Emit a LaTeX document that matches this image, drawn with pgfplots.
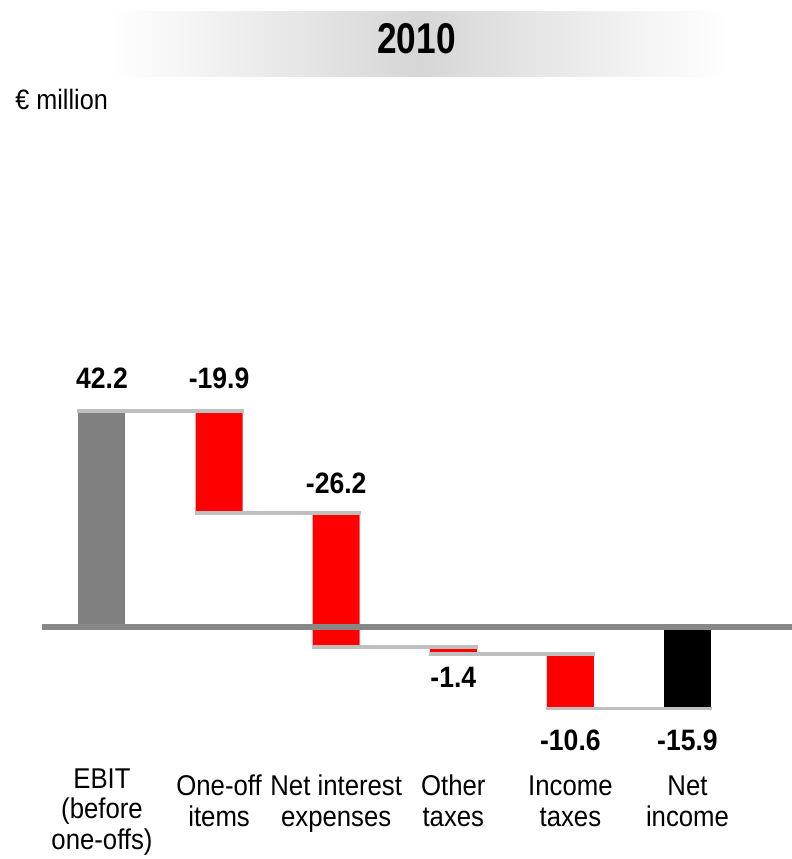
\documentclass[border=0pt]{standalone}
\usepackage{fontspec}
\setmainfont{Liberation Sans}[FakeStretch=0.9]
\newfontfamily\titlefont{Liberation Sans}[FakeStretch=0.82]
\usepackage{pgfplots}
\pgfplotsset{compat=1.18}

\definecolor{wfred}{RGB}{255,0,0}
\definecolor{wfgray}{RGB}{128,128,128}
\definecolor{conn}{RGB}{191,191,191}
\definecolor{zeroline}{RGB}{136,136,136}
\definecolor{band}{RGB}{214,214,214}

\newcommand\valfont{\fontsize{14.75}{16}\selectfont\bfseries}
\newcommand\catfont{\fontsize{14.3}{15.25}\selectfont}

% both axes share the same frame so bars, lines and labels line up
\pgfplotsset{
  wf/.style={
    at={(51pt,-313.5pt)}, anchor=origin,
    x=58.55pt, y=2.56pt,
    xmin=-0.512, xmax=5.892, ymin=-27, ymax=46,
    axis line style={draw=none},
    major tick style={draw=none},
    ytick=\empty, xtick=\empty,
    clip=false,
  }
}

\begin{document}
\begin{tikzpicture}
  \useasboundingbox (0,0) rectangle (396pt,-429.5pt);

  % title band
  \shade[left color=white, right color=white, middle color=band]
    (55pt,-5.5pt) rectangle (364pt,-38pt);
  \node[anchor=base, inner sep=0pt, font=\titlefont\fontsize{21.5}{24}\selectfont\bfseries]
    at (208.25pt,-26.5pt) {2010};
  \node[anchor=base west, inner sep=0pt, font=\fontsize{14}{16}\selectfont]
    at (7.5pt,-54.5pt) {€ million};

  % bars: invisible base + coloured increments
  \begin{axis}[wf, ybar stacked, stack negative=on previous, bar width=23.5pt]
    \addplot[draw=none, fill=none] coordinates {(0,0) (1,22.3) (2,-3.9) (3,-5.3) (4,-15.9) (5,0)};
    \addplot[draw=none, fill=wfgray] coordinates {(0,42.2) (1,0) (2,0) (3,0) (4,0) (5,0)};
    \addplot[draw=none, fill=wfred] coordinates {(0,0) (1,19.9) (2,26.2) (3,1.4) (4,10.6) (5,0)};
    \addplot[draw=none, fill=black] coordinates {(0,0) (1,0) (2,0) (3,0) (4,0) (5,-15.9)};
  \end{axis}

  % zero line, connectors, value labels, categories
  \begin{axis}[wf,
      xtick={0,1,2,3,4,5},
      xticklabels={{EBIT\\(before\\one-offs)},
                   {\rule{0pt}{13.5pt}One-off\\items},
                   {\rule{0pt}{13.5pt}Net interest\\expenses},
                   {\rule{0pt}{13.5pt}Other\\taxes},
                   {\rule{0pt}{13.5pt}Income\\taxes},
                   {\rule{0pt}{13.5pt}Net\\income}},
      xticklabel style={anchor=north, align=center, inner sep=0pt,
                        font=\catfont, text=black, yshift=-1.5pt},
    ]
    \addplot[zeroline, line width=3pt] coordinates {(-0.512,0) (5.892,0)};

    \addplot[conn, line width=1.75pt] coordinates {(-0.21,42.2) (1.21,42.2)};
    \addplot[conn, line width=1.75pt] coordinates {(0.79,22.3) (2.21,22.3)};
    \addplot[conn, line width=1.75pt] coordinates {(1.79,-3.9) (3.21,-3.9)};
    \addplot[conn, line width=1.75pt] coordinates {(2.79,-5.3) (4.21,-5.3)};
    \addplot[conn, line width=1.75pt] coordinates {(3.79,-15.9) (5.21,-15.9)};

    \addplot[draw=none, mark=none, nodes near coords, point meta=explicit symbolic,
      nodes near coords style={anchor=base, yshift=11pt, inner sep=0pt, text=black, font=\valfont}]
      table[meta=lab] {
        x y    lab
        0 42.2 42.2
        1 42.2 -19.9
      };
    \addplot[draw=none, mark=none, nodes near coords, point meta=explicit symbolic,
      nodes near coords style={anchor=base, yshift=9.75pt, inner sep=0pt, text=black, font=\valfont}]
      table[meta=lab] {
        x y    lab
        2 22.3 -26.2
      };
    \addplot[draw=none, mark=none, nodes near coords, point meta=explicit symbolic,
      nodes near coords style={anchor=base, yshift=-16.75pt, inner sep=0pt, text=black, font=\valfont}]
      table[meta=lab] {
        x y    lab
        3 -5.3 -1.4
      };
    \addplot[draw=none, mark=none, nodes near coords, point meta=explicit symbolic,
      nodes near coords style={anchor=base, yshift=-21pt, inner sep=0pt, text=black, font=\valfont}]
      table[meta=lab] {
        x y     lab
        4 -15.9 -10.6
        5 -15.9 -15.9
      };
  \end{axis}
\end{tikzpicture}
\end{document}
